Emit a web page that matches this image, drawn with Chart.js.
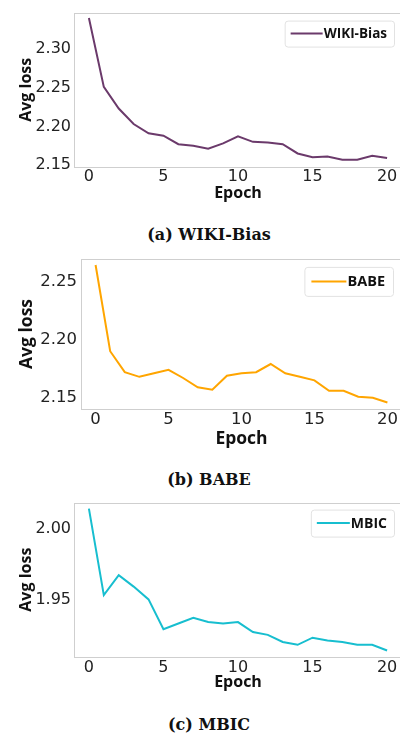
<!DOCTYPE html>
<html>
<head>
<meta charset="utf-8">
<script src="https://cdn.jsdelivr.net/npm/chart.js@4.4.1/dist/chart.umd.min.js"></script>
<style>
  html, body { margin:0; padding:0; background:#fff; overflow:hidden; }
  #page { position:relative; width:400px; height:734px; overflow:hidden; }
  .box { position:absolute; left:0; }
  .cap { position:absolute; left:0; width:418px; text-align:center; font-family:"DejaVu Serif", serif; font-weight:bold; font-size:16px; line-height:16px; color:#111; white-space:nowrap; }
</style>
</head>
<body>
<div id="page">
  <div class="box" style="top:0px"><canvas id="c1" width="402" height="205"></canvas></div>
  <div class="cap" style="top:227px">(a) WIKI-Bias</div>
  <div class="box" style="top:245px"><canvas id="c2" width="402" height="205"></canvas></div>
  <div class="cap" style="top:471.5px">(b) BABE</div>
  <div class="box" style="top:490px"><canvas id="c3" width="402" height="205"></canvas></div>
  <div class="cap" style="top:716.5px">(c) MBIC</div>
</div>
<script>
// ---- data ----
const epochs = [0,1,2,3,4,5,6,7,8,9,10,11,12,13,14,15,16,17,18,19,20];
const wikiLoss = [2.340,2.251,2.223,2.203,2.191,2.188,2.177,2.175,2.171,2.178,2.187,2.180,2.179,2.177,2.165,2.160,2.161,2.157,2.157,2.162,2.159];
const babeLoss = [2.264,2.190,2.172,2.168,2.171,2.174,2.167,2.159,2.157,2.169,2.171,2.172,2.179,2.171,2.168,2.165,2.156,2.156,2.151,2.150,2.146];
const mbicLoss = [2.014,1.953,1.967,1.959,1.950,1.929,1.933,1.937,1.934,1.933,1.934,1.927,1.925,1.920,1.918,1.923,1.921,1.920,1.918,1.918,1.914];
const xTicks = [0,5,10,15,20];
const yTicksWiki = [2.15,2.20,2.25,2.30];
const yTicksBabe = [2.15,2.20,2.25];
const yTicksMbic = [1.95,2.00];
const seriesNames = ['WIKI-Bias','BABE','MBIC'];
const xTitle = 'Epoch';
const yTitle = 'Avg loss';

const framePlugin = {
  id: 'frameLegend',
  beforeDatasetsDraw(chart, args, o) {
    const {ctx, chartArea: a} = chart;
    ctx.save();
    ctx.strokeStyle = '#cfcfcf';
    ctx.lineWidth = 1;
    ctx.strokeRect(Math.round(a.left) + 0.5, Math.round(a.top) + 0.5, Math.round(a.right - a.left), Math.round(a.bottom - a.top));
    ctx.restore();
  },
  afterDraw(chart, args, o) {
    const {ctx, chartArea: a} = chart;
    const ds = chart.data.datasets[0];
    ctx.save();
    ctx.font = 'bold ' + o.fontSize + 'px "Open Sans"';
    const tw = ctx.measureText(ds.label).width;
    const w = o.padL + o.lineLen + o.gap + tw + o.padR;
    const right = a.right - o.insetR;
    const top = a.top + o.insetT;
    const left = right - w;
    const h = o.height;
    ctx.beginPath();
    ctx.roundRect(left + 0.5, top + 0.5, w, h, 3);
    ctx.fillStyle = 'rgba(255,255,255,0.85)';
    ctx.fill();
    ctx.strokeStyle = '#e2e2e2';
    ctx.lineWidth = 1;
    ctx.stroke();
    const cy = top + h / 2;
    ctx.beginPath();
    ctx.moveTo(left + o.padL, cy);
    ctx.lineTo(left + o.padL + o.lineLen, cy);
    ctx.strokeStyle = ds.borderColor;
    ctx.lineWidth = 2;
    ctx.stroke();
    ctx.fillStyle = '#111';
    ctx.textBaseline = 'middle';
    ctx.textAlign = 'left';
    ctx.fillText(ds.label, left + o.padL + o.lineLen + o.gap, cy + 0.5);
    ctx.restore();
  }
};

function makeChart(id, cfg) {
  const pts = epochs.map((e, i) => ({x: e, y: cfg.values[i]}));
  return new Chart(document.getElementById(id), {
    type: 'line',
    data: { datasets: [{ label: cfg.name, data: pts, borderColor: cfg.color, borderWidth: 2, pointRadius: 0, fill: false, tension: 0 }] },
    plugins: [framePlugin],
    options: {
      responsive: false,
      animation: false,
      devicePixelRatio: 1,
      layout: { padding: { top: cfg.padTop, right: 0, left: 0, bottom: 0 } },
      plugins: {
        legend: { display: false },
        tooltip: { enabled: false },
        frameLegend: cfg.legend
      },
      scales: {
        x: {
          type: 'linear', min: -1, max: 21,
          grid: { display: false, drawTicks: false },
          border: { display: false },
          afterBuildTicks: s => { s.ticks = xTicks.map(v => ({value: v})); },
          afterFit: s => { s.height = cfg.xHeight; },
          ticks: { padding: cfg.xTickPad, color: '#222', font: { family: 'DejaVu Sans', size: cfg.tickSize }, callback: v => String(v), maxRotation: 0 },
          title: { display: true, text: xTitle, color: '#111', font: { family: 'Open Sans', weight: 'bold', size: cfg.titleSize }, padding: { top: 0, bottom: cfg.xTitlePad } }
        },
        y: {
          type: 'linear', min: cfg.yMin, max: cfg.yMax,
          grid: { display: false, drawTicks: false },
          border: { display: false },
          afterBuildTicks: s => { s.ticks = cfg.yTicks.map(v => ({value: v})); },
          afterFit: s => { s.width = cfg.yWidth; },
          ticks: { padding: cfg.yTickPad, color: '#222', font: { family: 'DejaVu Sans', size: cfg.tickSize }, callback: v => Number(v).toFixed(2) },
          title: { display: true, text: yTitle, color: '#111', font: { family: 'Open Sans', weight: 'bold', size: cfg.titleSize }, padding: { top: cfg.yTitlePad, bottom: 0 } }
        }
      }
    }
  });
}

makeChart('c1', {
  name: seriesNames[0], values: wikiLoss, color: '#6b3a6b',
  yMin: 2.1475, yMax: 2.347, yTicks: yTicksWiki,
  padTop: 7, xHeight: 38, yWidth: 74,
  tickSize: 16, titleSize: 16, xTickPad: 0, yTickPad: 3, xTitlePad: 2, yTitlePad: 16.4,
  legend: { fontSize: 13.5, padL: 6, lineLen: 32, gap: 1, padR: 7, insetR: 8, insetT: 8, height: 26 }
});
makeChart('c2', {
  name: seriesNames[1], values: babeLoss, color: '#ffa500',
  yMin: 2.1404, yMax: 2.2692, yTicks: yTicksBabe,
  padTop: 7.7, xHeight: 41, yWidth: 81,
  tickSize: 16.5, titleSize: 17.5, xTickPad: 1, yTickPad: 4, xTitlePad: 0.6, yTitlePad: 16.5,
  legend: { fontSize: 14.5, padL: 7, lineLen: 35, gap: 1, padR: 8, insetR: 9, insetT: 8, height: 29 }
});
makeChart('c3', {
  name: seriesNames[2], values: mbicLoss, color: '#17becf',
  yMin: 1.9096, yMax: 2.0182, yTicks: yTicksMbic,
  padTop: 7.3, xHeight: 38.3, yWidth: 74,
  tickSize: 16, titleSize: 16, xTickPad: 1.2, yTickPad: 3, xTitlePad: 2.7, yTitlePad: 16.4,
  legend: { fontSize: 14, padL: 6, lineLen: 33, gap: 1, padR: 7, insetR: 8, insetT: 7, height: 27 }
});
</script>
</body>
</html>
